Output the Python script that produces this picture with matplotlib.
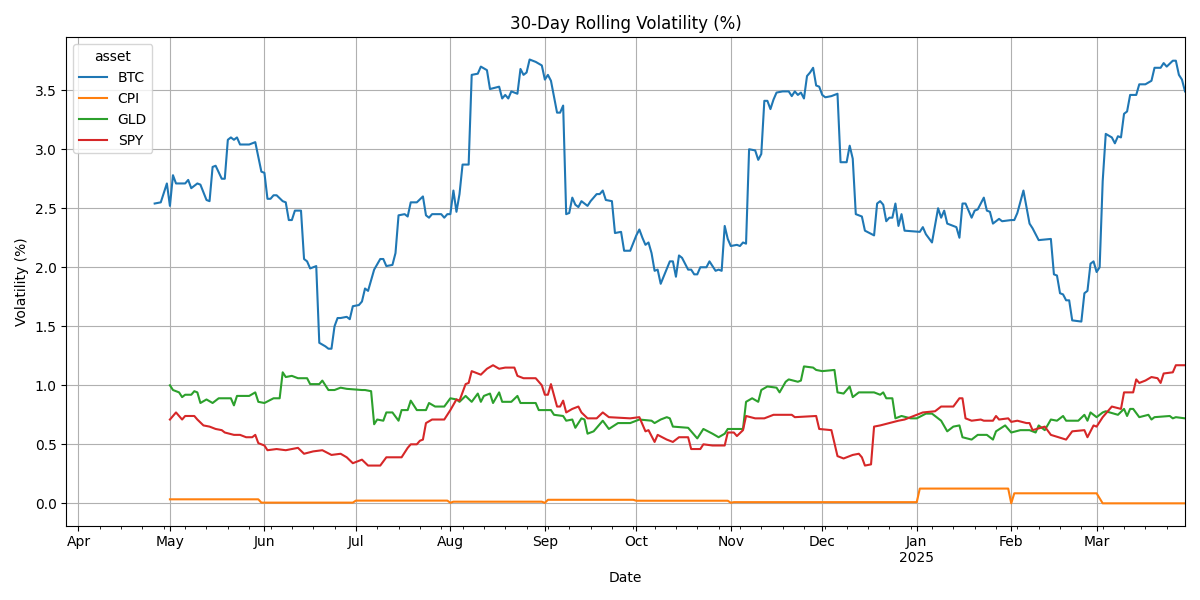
import numpy as np
import pandas as pd
import matplotlib.pyplot as plt
import matplotlib.dates as mdates
from matplotlib.ticker import FuncFormatter

# day offsets counted from 2024-05-01, values in %
start = pd.Timestamp("2024-05-01")

btc_days = [-5, -3, -1, 0, 1, 2, 5, 6, 7, 9, 10, 12, 13, 14, 15, 17, 18, 19, 20, 21, 22, 23, 26, 28, 30, 31,
            32, 33, 34, 35, 37, 38, 39, 40, 41, 43, 44, 45, 46, 48, 49, 51, 52, 53, 54, 55, 56, 58, 59, 60, 62,
            63, 64, 65, 67, 69, 70, 71, 73, 74, 75, 77, 78, 79, 81, 83, 84, 85, 86, 89, 90, 91, 92, 93, 94, 95,
            96, 98, 99, 101, 102, 104, 105, 108, 109, 110, 111, 112, 114, 115, 116, 117, 118, 120, 122, 123,
            124, 125, 127, 128, 129, 130, 131, 132, 133, 134, 135, 137, 138, 140, 141, 142, 143, 145, 146, 148,
            149, 151, 153, 154, 155, 156, 157, 158, 159, 160, 161, 164, 165, 166, 167, 168, 170, 171, 172, 173,
            174, 176, 177, 179, 180, 181, 182, 183, 184, 186, 187, 188, 189, 190, 192, 193, 194, 195, 196, 197,
            198, 199, 201, 203, 204, 205, 206, 207, 208, 209, 210, 211, 212, 213, 214, 215, 217, 219, 220, 222,
            223, 224, 225, 227, 228, 231, 232, 233, 234, 235, 236, 237, 238, 239, 240, 241, 246, 247, 248, 250,
            252, 253, 254, 255, 258, 259, 260, 261, 263, 264, 265, 267, 268, 269, 270, 272, 273, 276, 277, 278,
            280, 282, 283, 285, 289, 290, 291, 292, 293, 294, 295, 296, 299, 300, 301, 302, 303, 304, 305, 306,
            307, 309, 310, 311, 312, 313, 314, 315, 317, 318, 320, 322, 323, 325, 326, 327, 329, 330, 331, 332, 333]
btc_vals = [2.54, 2.55, 2.71, 2.52, 2.78, 2.71, 2.71, 2.74, 2.67, 2.71, 2.70, 2.57, 2.56, 2.85, 2.86, 2.75, 2.75,
            3.08, 3.10, 3.08, 3.10, 3.04, 3.04, 3.06, 2.81, 2.80, 2.58, 2.58, 2.61, 2.61, 2.56, 2.55, 2.40, 2.40,
            2.48, 2.48, 2.07, 2.05, 1.99, 2.01, 1.36, 1.33, 1.31, 1.31, 1.50, 1.57, 1.57, 1.58, 1.56, 1.67, 1.68,
            1.71, 1.82, 1.80, 1.98, 2.07, 2.07, 2.01, 2.02, 2.12, 2.44, 2.45, 2.43, 2.55, 2.55, 2.60, 2.44, 2.42,
            2.45, 2.45, 2.42, 2.45, 2.45, 2.65, 2.47, 2.62, 2.87, 2.87, 3.63, 3.64, 3.70, 3.67, 3.51, 3.53, 3.43,
            3.46, 3.43, 3.49, 3.47, 3.68, 3.63, 3.65, 3.76, 3.74, 3.71, 3.59, 3.63, 3.58, 3.31, 3.31, 3.37, 2.45,
            2.46, 2.59, 2.53, 2.51, 2.56, 2.52, 2.56, 2.62, 2.62, 2.65, 2.57, 2.56, 2.29, 2.30, 2.14, 2.14, 2.27,
            2.32, 2.25, 2.19, 2.21, 2.12, 1.97, 1.98, 1.86, 2.05, 2.05, 1.92, 2.10, 2.08, 1.98, 1.98, 1.94, 1.94,
            2.00, 2.00, 2.05, 1.97, 1.98, 1.97, 2.35, 2.24, 2.18, 2.19, 2.18, 2.21, 2.20, 3.00, 2.99, 2.91, 2.96,
            3.41, 3.41, 3.34, 3.42, 3.48, 3.49, 3.49, 3.45, 3.49, 3.46, 3.48, 3.43, 3.62, 3.65, 3.69, 3.54, 3.53,
            3.46, 3.44, 3.45, 3.47, 2.89, 2.89, 3.03, 2.92, 2.45, 2.43, 2.31, 2.27, 2.54, 2.56, 2.53, 2.39, 2.42,
            2.42, 2.54, 2.35, 2.45, 2.31, 2.30, 2.34, 2.28, 2.21, 2.50, 2.42, 2.48, 2.37, 2.34, 2.25, 2.54, 2.54,
            2.42, 2.48, 2.49, 2.59, 2.48, 2.47, 2.37, 2.41, 2.39, 2.40, 2.40, 2.46, 2.65, 2.37, 2.33, 2.23, 2.24,
            1.94, 1.93, 1.78, 1.77, 1.72, 1.72, 1.55, 1.54, 1.78, 1.80, 2.03, 2.05, 1.96, 2.00, 2.73, 3.13, 3.10,
            3.05, 3.11, 3.10, 3.30, 3.32, 3.46, 3.46, 3.55, 3.55, 3.58, 3.69, 3.69, 3.73, 3.70, 3.75, 3.75, 3.63,
            3.59, 3.49]

cpi_days = [0, 29, 30, 60, 61, 91, 92, 93, 122, 123, 124, 152, 153, 183, 184, 185, 245, 246, 275, 276, 277, 304, 306, 333]
cpi_vals = [0.034, 0.034, 0.006, 0.006, 0.023, 0.023, 0.005, 0.014, 0.014, 0.004, 0.03, 0.03, 0.022, 0.022, 0.005,
            0.01, 0.01, 0.125, 0.125, 0.0, 0.085, 0.085, 0.0, 0.0]

gld_days = [0, 1, 3, 4, 5, 7, 8, 9, 10, 12, 14, 16, 20, 21, 22, 26, 28, 29, 31, 34, 36, 37, 38, 40, 42, 45, 46, 49,
            50, 52, 54, 56, 58, 63, 64, 66, 67, 68, 70, 71, 73, 75, 76, 78, 79, 81, 84, 85, 87, 90, 92, 94, 95, 97,
            99, 101, 102, 103, 105, 106, 108, 109, 112, 114, 115, 120, 121, 125, 126, 129, 130, 132, 133, 135,
            136, 137, 139, 142, 144, 147, 151, 154, 158, 159, 161, 163, 164, 165, 170, 173, 175, 178, 180, 182,
            183, 188, 189, 191, 193, 194, 196, 199, 200, 202, 203, 206, 207, 208, 211, 212, 214, 218, 219, 221,
            223, 224, 226, 231, 233, 234, 235, 237, 238, 240, 243, 245, 248, 250, 253, 255, 257, 259, 260, 263,
            265, 268, 270, 271, 274, 275, 276, 279, 282, 284, 285, 287, 289, 291, 293, 294, 298, 300, 301, 302,
            304, 306, 307, 311, 313, 314, 315, 316, 318, 321, 322, 323, 328, 329, 330, 333]
gld_vals = [1.00, 0.96, 0.94, 0.90, 0.92, 0.92, 0.95, 0.94, 0.85, 0.88, 0.85, 0.89, 0.89, 0.83, 0.91, 0.91, 0.94,
            0.86, 0.85, 0.89, 0.89, 1.11, 1.07, 1.08, 1.06, 1.06, 1.01, 1.01, 1.04, 0.96, 0.96, 0.98, 0.97, 0.96,
            0.96, 0.95, 0.67, 0.71, 0.70, 0.77, 0.77, 0.70, 0.79, 0.79, 0.87, 0.79, 0.79, 0.85, 0.82, 0.82, 0.89,
            0.88, 0.86, 0.91, 0.86, 0.93, 0.86, 0.91, 0.93, 0.85, 0.94, 0.86, 0.86, 0.91, 0.85, 0.85, 0.79, 0.79,
            0.75, 0.74, 0.70, 0.71, 0.64, 0.72, 0.71, 0.59, 0.61, 0.70, 0.63, 0.68, 0.68, 0.71, 0.70, 0.68, 0.71,
            0.73, 0.72, 0.65, 0.64, 0.55, 0.63, 0.59, 0.56, 0.59, 0.63, 0.63, 0.86, 0.89, 0.86, 0.96, 0.99, 0.98,
            0.94, 1.03, 1.05, 1.03, 1.04, 1.16, 1.15, 1.13, 1.12, 1.13, 0.94, 0.93, 0.99, 0.90, 0.94, 0.94, 0.92,
            0.94, 0.89, 0.89, 0.72, 0.74, 0.72, 0.72, 0.76, 0.76, 0.70, 0.61, 0.65, 0.66, 0.56, 0.54, 0.58, 0.58,
            0.54, 0.61, 0.66, 0.63, 0.60, 0.62, 0.62, 0.60, 0.66, 0.62, 0.71, 0.70, 0.74, 0.70, 0.70, 0.75, 0.70,
            0.77, 0.73, 0.77, 0.78, 0.75, 0.80, 0.74, 0.80, 0.80, 0.73, 0.75, 0.71, 0.73, 0.74, 0.72, 0.73, 0.72]

spy_days = [0, 2, 4, 5, 8, 9, 11, 13, 15, 17, 18, 21, 23, 25, 27, 28, 29, 31, 32, 35, 38, 42, 44, 47, 50, 53, 56,
            58, 60, 63, 65, 69, 71, 76, 78, 79, 81, 82, 83, 84, 86, 90, 92, 94, 95, 97, 98, 99, 102, 104, 106, 108,
            110, 113, 114, 116, 120, 122, 123, 124, 125, 127, 128, 129, 130, 132, 134, 135, 137, 140, 142, 144,
            151, 154, 156, 157, 159, 160, 163, 164, 165, 167, 170, 171, 174, 175, 178, 182, 183, 185, 186, 188,
            189, 192, 195, 198, 204, 205, 212, 213, 217, 219, 221, 224, 226, 227, 228, 230, 231, 233, 236, 239,
            241, 243, 247, 251, 253, 257, 259, 260, 261, 263, 266, 267, 270, 271, 272, 275, 276, 278, 281, 282,
            283, 287, 289, 294, 296, 300, 301, 303, 304, 306, 309, 312, 313, 316, 317, 318, 320, 322, 324, 325,
            326, 329, 330, 333]
spy_vals = [0.71, 0.77, 0.71, 0.74, 0.74, 0.71, 0.66, 0.65, 0.63, 0.62, 0.60, 0.58, 0.58, 0.56, 0.56, 0.58, 0.51,
            0.49, 0.45, 0.46, 0.45, 0.47, 0.42, 0.44, 0.45, 0.41, 0.42, 0.39, 0.34, 0.37, 0.32, 0.32, 0.39, 0.39,
            0.47, 0.50, 0.50, 0.53, 0.54, 0.68, 0.71, 0.71, 0.79, 0.88, 0.87, 1.01, 1.02, 1.12, 1.09, 1.14, 1.17,
            1.14, 1.15, 1.15, 1.08, 1.06, 1.06, 1.00, 0.92, 0.92, 1.01, 0.82, 0.82, 0.87, 0.77, 0.80, 0.82, 0.77,
            0.72, 0.72, 0.77, 0.73, 0.72, 0.73, 0.61, 0.62, 0.52, 0.58, 0.54, 0.53, 0.52, 0.56, 0.56, 0.46, 0.46,
            0.50, 0.49, 0.49, 0.60, 0.60, 0.57, 0.62, 0.74, 0.72, 0.72, 0.75, 0.75, 0.73, 0.74, 0.63, 0.62, 0.40,
            0.38, 0.41, 0.42, 0.39, 0.32, 0.33, 0.65, 0.66, 0.68, 0.70, 0.71, 0.73, 0.77, 0.78, 0.82, 0.82, 0.89,
            0.89, 0.72, 0.70, 0.71, 0.70, 0.70, 0.74, 0.71, 0.72, 0.69, 0.70, 0.68, 0.68, 0.62, 0.65, 0.58, 0.54,
            0.61, 0.62, 0.56, 0.66, 0.65, 0.73, 0.82, 0.80, 0.94, 0.94, 1.05, 1.02, 1.04, 1.07, 1.06, 1.02, 1.10,
            1.11, 1.17, 1.17]

series = {
    "BTC": (btc_days, btc_vals),
    "CPI": (cpi_days, cpi_vals),
    "GLD": (gld_days, gld_vals),
    "SPY": (spy_days, spy_vals),
}
colors = ["#1f77b4", "#ff7f0e", "#2ca02c", "#d62728"]


def month_label(x, pos):
    d = mdates.num2date(x)
    return d.strftime("%b\n%Y") if d.month == 1 else d.strftime("%b")


fig, ax = plt.subplots(figsize=(12, 6), dpi=100)
for (name, (d, v)), c in zip(series.items(), colors):
    n = min(len(d), len(v))  # guard against a miscount in the hand-read lists
    dates = start + pd.to_timedelta(d[:n], unit="D")
    ax.plot(dates, v[:n], color=c, label=name, linewidth=1.5)

ax.set_xlim(pd.Timestamp("2024-03-28"), pd.Timestamp("2025-03-30"))
ax.xaxis.set_major_locator(mdates.MonthLocator())
ax.xaxis.set_minor_locator(mdates.WeekdayLocator(byweekday=mdates.MO))
ax.xaxis.set_major_formatter(FuncFormatter(month_label))
ax.tick_params(axis="x", which="minor", length=2)
ax.grid(True, which="major")
ax.set_title("30-Day Rolling Volatility (%)")
ax.set_xlabel("Date")
ax.set_ylabel("Volatility (%)")
ax.legend(title="asset", loc="upper left")
plt.tight_layout()
plt.savefig("out.png", dpi=100)
